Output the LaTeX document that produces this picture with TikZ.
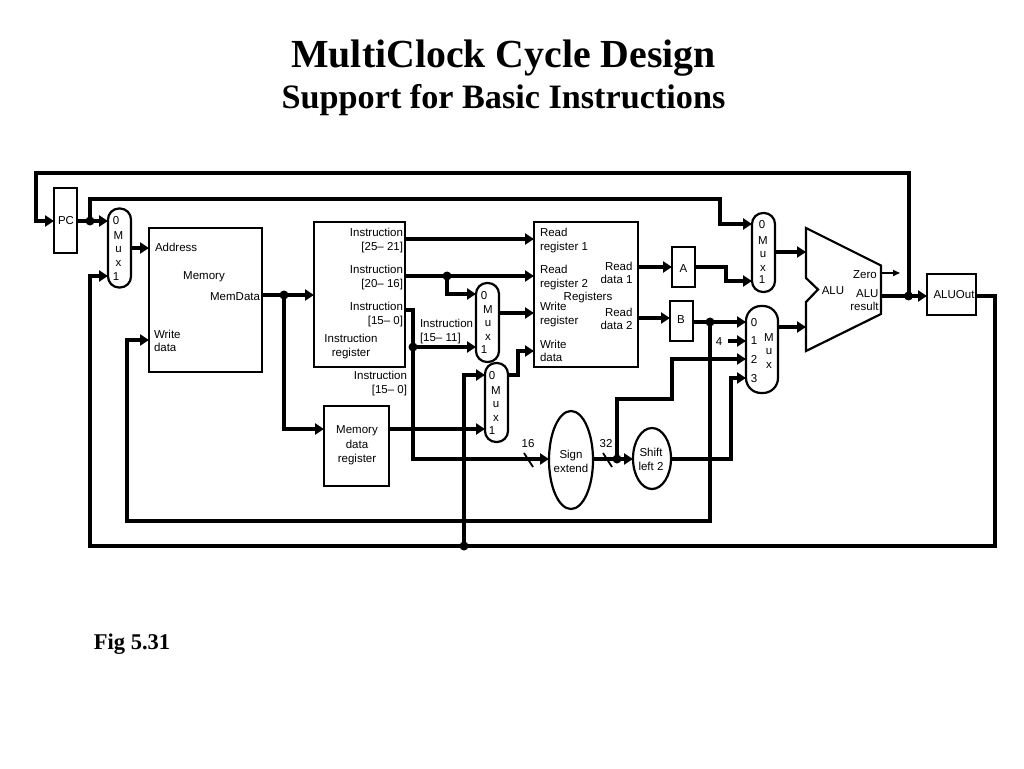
\documentclass[tikz,border=0pt]{standalone}
\usepackage{fontspec}
\setmainfont{Liberation Sans}
\newfontfamily\titlefont{Liberation Serif}
\usetikzlibrary{arrows.meta,shapes.geometric}
\tikzset{
  wire/.style={line width=4pt,line join=miter,-{Triangle[length=9pt,width=11pt]}},
  plainwire/.style={line width=4pt,line join=miter},
  thinwire/.style={line width=1.6pt,-{Triangle[length=7pt,width=6pt]}},
  slash/.style={line width=1.8pt},
  box/.style={draw,line width=2.2pt,rectangle,inner sep=0pt,outer sep=0pt},
  muxbox/.style={box,rounded corners=11pt,minimum width=23pt,minimum height=79pt},
  oval/.style={draw,line width=2.2pt,ellipse,inner sep=0pt,outer sep=0pt},
  dot/.style={circle,fill=black,inner sep=0pt,outer sep=0pt,minimum size=9pt},
  lab/.style={inner sep=0pt,outer sep=0pt,yshift=-1pt,font=\fontsize{11.5}{13.2}\selectfont},
  tag/.style={lab,align=left,anchor=west},
  rtag/.style={lab,align=right,anchor=east},
  ctag/.style={lab,align=center},
  headline/.style={inner sep=0pt,anchor=base},
}
\begin{document}
\begin{tikzpicture}[x=1pt,y=-1pt]
\useasboundingbox (0,0) rectangle (1024,768);
\fill[white] (0,0) rectangle (1024,768);

% titles
\node[headline,font=\titlefont\bfseries\fontsize{39.8}{42}\selectfont] (title) at (503.5,67) {MultiClock Cycle Design};
\node[headline,font=\titlefont\bfseries\fontsize{34.2}{36}\selectfont] (subtitle) at (503.5,108) {Support for Basic Instructions};
\node[headline,font=\titlefont\bfseries\fontsize{22.5}{24}\selectfont] (figlabel) at (132,649) {Fig 5.31};

% blocks
\node[box,minimum width=23pt,minimum height=65pt] (pc) at (65.5,220.5) {};
\node[box,minimum width=113pt,minimum height=144pt] (mem) at (205.5,300) {};
\node[box,minimum width=91pt,minimum height=145pt] (ir) at (359.5,294.5) {};
\node[box,minimum width=65pt,minimum height=80pt] (mdr) at (356.5,446) {};
\node[box,minimum width=104pt,minimum height=145pt] (reg) at (586,294.5) {};
\node[box,minimum width=23pt,minimum height=40pt] (rega) at (683.5,267) {};
\node[box,minimum width=23pt,minimum height=40pt] (regb) at (681.5,321) {};
\node[box,minimum width=49pt,minimum height=41pt] (aluout) at (951.5,294.5) {};
\node[muxbox] (muxa) at (119.5,248) {};
\node[muxbox] (muxb) at (487.5,322.5) {};
\node[muxbox] (muxc) at (496.5,402.5) {};
\node[muxbox] (muxd) at (763.5,252.5) {};
\node[muxbox,rounded corners=15pt,minimum width=32pt,minimum height=87pt] (muxe) at (762,349.5) {};
\node[oval,minimum width=44pt,minimum height=98pt] (sign) at (571,460) {};
\node[oval,minimum width=38pt,minimum height=61pt] (shift) at (652,458.5) {};

% ALU outline
\coordinate (alua) at (806,228);
\coordinate (alub) at (881,265.5);
\coordinate (aluc) at (881,314);
\coordinate (alud) at (806,351);
\coordinate (alue) at (806,302);
\coordinate (aluf) at (818,289.5);
\coordinate (alug) at (806,278);
\draw[line width=2.2pt,line join=miter] (alua) -- (alub) -- (aluc) -- (alud) -- (alue) -- (aluf) -- (alug) -- cycle;

% junctions
\node[dot] (jpc) at (90,221) {};
\node[dot] (jmem) at (284,295) {};
\node[dot] (jrt) at (447,276) {};
\node[dot] (jimm) at (413,347) {};
\node[dot] (jb) at (710,322) {};
\node[dot] (jsx) at (617,459) {};
\node[dot] (jalu) at (908.5,296) {};
\node[dot] (jbot) at (464,546) {};

% helper corners
\coordinate (cTopL) at (36,173);
\coordinate (cTopR) at (908.5,173);
\coordinate (cPcIn) at (36,221);
\coordinate (cLoopL) at (90,199);
\coordinate (cLoopR) at (720,199);
\coordinate (cLoopD) at (720,224);
\coordinate (cBotL) at (90,546);
\coordinate (cBotR) at (995,546);
\coordinate (cOutR) at (995,296);
\coordinate (cBL) at (127,521);
\coordinate (cBR) at (710,521);
\coordinate (cMdrIn) at (284,429);
\coordinate (cFour) at (728,341);

% connectors
\draw[wire] (jalu.center) -- (cTopR) -- (cTopL) -- (cPcIn) -- (pc.west |- cPcIn);
\draw[wire] (pc.east |- jpc) -- (muxa.west |- jpc);
\draw[wire] (jpc.center) -- (cLoopL) -- (cLoopR) -- (cLoopD) -- (muxd.west |- cLoopD);
\draw[wire] (muxa.east |- 0,248) -- (mem.west |- 0,248);
\draw[wire] (aluout.east |- cOutR) -- (cOutR) -- (cBotR) -- (cBotL) -- (90,276) -- (muxa.west |- 0,276);
\draw[wire] (mem.east |- jmem) -- (ir.west |- jmem);
\draw[wire] (jmem.center) -- (cMdrIn) -- (mdr.west |- cMdrIn);
\draw[wire] (jb.center) -- (cBR) -- (cBL) -- (127,340) -- (mem.west |- 0,340);
\draw[wire] (ir.east |- 0,239) -- (reg.west |- 0,239);
\draw[wire] (ir.east |- jrt) -- (reg.west |- jrt);
\draw[wire] (jrt.center) -- (447,294) -- (muxb.west |- 0,294);
\draw[plainwire] (ir.east |- 0,310) -- (413,310) -- (jimm.center);
\draw[wire] (jimm.center) -- (muxb.west |- jimm);
\draw[wire] (jimm.center) -- (413,459) -- (sign.west |- 0,459);
\draw[wire] (muxb.east |- 0,313) -- (reg.west |- 0,313);
\draw[wire] (muxc.east |- 0,375) -- (518,375) -- (518,351) -- (reg.west |- 0,351);
\draw[wire] (jbot.center) -- (464,375) -- (muxc.west |- 0,375);
\draw[wire] (mdr.east |- 0,429) -- (muxc.west |- 0,429);
\draw[wire] (reg.east |- rega) -- (rega.west);
\draw[wire] (reg.east |- 0,318) -- (regb.west |- 0,318);
\draw[wire] (rega.east) -- (726,267) -- (726,281) -- (muxd.west |- 0,281);
\draw[wire] (regb.east |- jb) -- (muxe.west |- jb);
\draw[wire] (cFour) -- (muxe.west |- cFour);
\draw[wire] (sign.east |- jsx) -- (shift.west |- jsx);
\draw[wire] (jsx.center) -- (617,398.5) -- (672,398.5) -- (672,359) -- (muxe.west |- 0,359);
\draw[wire] (shift.east |- 0,459) -- (731,459) -- (731,378) -- (muxe.west |- 0,378);
\draw[wire] (muxd.east |- 0,252) -- (alua |- 0,252);
\draw[wire] (muxe.east |- 0,327) -- (alua |- 0,327);
\draw[thinwire] (alub |- 0,273) -- (900,273);
\draw[wire] (alub |- jalu) -- (aluout.west |- jalu);

% bus width ticks
\coordinate (tickaS) at (524,453);
\coordinate (tickaE) at (533,467);
\coordinate (tickbS) at (603,453);
\coordinate (tickbE) at (612,467);
\draw[slash] (tickaS) -- (tickaE);
\draw[slash] (tickbS) -- (tickbE);

% labels
\node[ctag] (tpc) at (66,220) {PC};
\node[ctag] (ta0) at (116,220) {0};
\node[ctag] (tam) at (118.5,248) {M\\u\\x};
\node[ctag] (ta1) at (116,276) {1};
\node[tag] (taddr) at (155,246) {Address};
\node[ctag] (tmem) at (204,276) {Memory};
\node[rtag] (tmd) at (260,295.5) {MemData};
\node[tag] (twd) at (154,340) {Write\\data};
\node[rtag] (ti1) at (403,239.5) {Instruction\\{[25– 21]}};
\node[rtag] (ti2) at (403,276.5) {Instruction\\{[20– 16]}};
\node[rtag] (ti3) at (403,313.5) {Instruction\\{[15– 0]}};
\node[ctag] (tir) at (351,346) {Instruction\\[0.8pt]register};
\node[tag] (ti4) at (420,330.5) {Instruction\\{[15– 11]}};
\node[rtag] (ti5) at (407,382.5) {Instruction\\{[15– 0]}};
\node[ctag] (tb0) at (484,295) {0};
\node[ctag] (tbm) at (488,322) {M\\u\\x};
\node[ctag] (tb1) at (484,349) {1};
\node[ctag] (tc0) at (492,375) {0};
\node[ctag] (tcm) at (496,403) {M\\u\\x};
\node[ctag] (tc1) at (492,430) {1};
\node[ctag] (tmdr) at (357,444.5) {Memory\\[1.2pt]data\\[1.2pt]register};
\node[tag] (tr1) at (540,239.5) {Read\\register 1};
\node[tag] (tr2) at (540,276.5) {Read\\register 2};
\node[tag] (tr3) at (540,313.5) {Write\\register};
\node[tag] (tr4) at (540,350) {Write\\data};
\node[ctag] (treg) at (588,297) {Registers};
\node[rtag] (trd1) at (632.5,271.5) {Read\\data 1\hspace{3pt}};
\node[rtag] (trd2) at (632.5,317.5) {Read\\data 2\hspace{3pt}};
\node[ctag] (ta) at (683.5,267.5) {A};
\node[ctag] (tbb) at (681,319) {B};
\node[ctag] (td0) at (762,224) {0};
\node[ctag] (tdm) at (763,253) {M\\u\\x};
\node[ctag] (td1) at (762,279) {1};
\node[ctag] (te0) at (754,322) {0};
\node[ctag] (te1) at (754,340) {1};
\node[ctag] (te2) at (754,358) {2};
\node[ctag] (te3) at (754,378) {3};
\node[ctag] (tem) at (769,350) {M\\u\\x};
\node[ctag] (tfour) at (719,340.5) {4};
\node[ctag] (talu) at (833,290) {ALU};
\node[ctag] (tzero) at (865,274) {Zero};
\node[lab,align=right,anchor=east] (tres) at (878.5,299) {ALU\\result};
\node[ctag] (tout) at (954,294) {ALUOut};
\node[ctag] (tsixteen) at (528,443) {16};
\node[ctag] (tthirty) at (606,443) {32};
\node[ctag] (tsign) at (571,460.5) {Sign\\[1.2pt]extend};
\node[ctag] (tshift) at (651,458.5) {Shift\\[1.2pt]left 2};
\end{tikzpicture}
\end{document}
